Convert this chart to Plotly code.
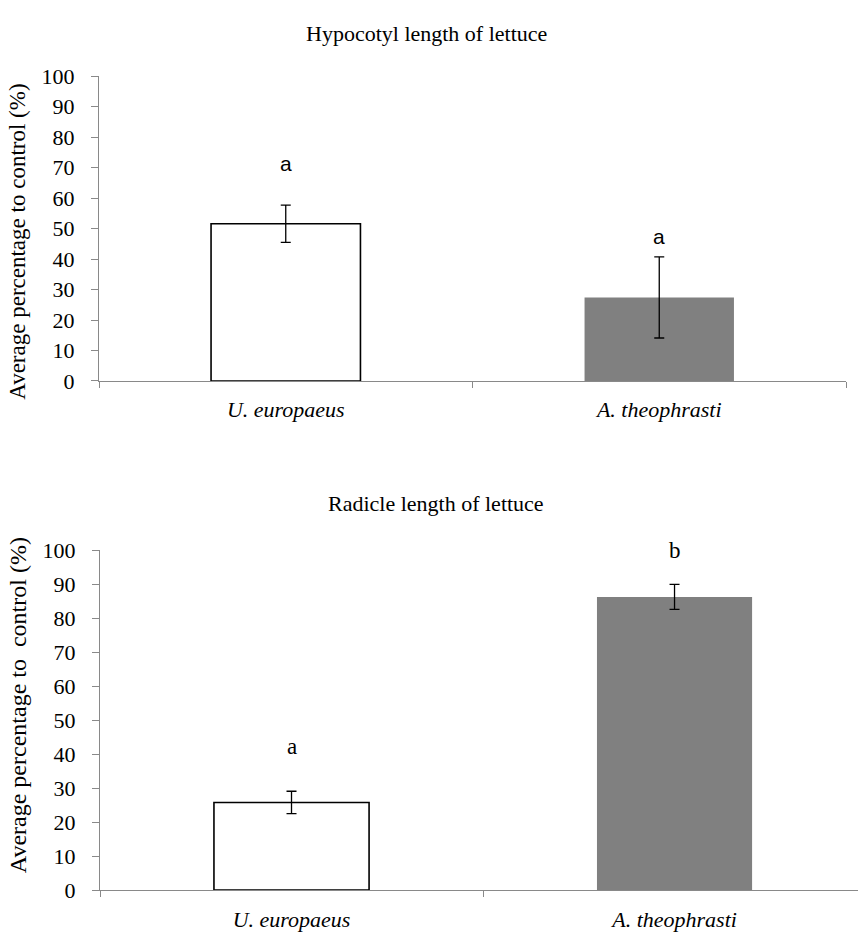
import plotly.graph_objects as go

categories = ["<i>U. europaeus</i>", "<i>A. theophrasti</i>"]
hypocotyl = [51.6, 27.4]
hypocotyl_err = [6.1, 13.3]
hypocotyl_letters = ["a", "a"]
hypocotyl_letter_y = [71.5, 47.5]

radicle = [25.8, 86.3]
radicle_err = [3.3, 3.7]
radicle_letters = ["a", "b"]
radicle_letter_y = [42.3, 100]

y_ticks = [0, 10, 20, 30, 40, 50, 60, 70, 80, 90, 100]

W, H = 858, 944
SERIF = "Times New Roman, Liberation Serif, Times, serif"
SANS = "Arial, Liberation Sans, sans-serif"
GREY_AX = "#898989"

fill_colors = ["white", "#808080"]
line_colors = ["black", "#808080"]
line_widths = [1.6, 0]

fig = go.Figure()

fig.add_trace(go.Bar(
    x=categories, y=hypocotyl, xaxis="x", yaxis="y", width=0.40,
    marker=dict(color=fill_colors, line=dict(color=line_colors, width=line_widths)),
    error_y=dict(type="data", array=hypocotyl_err, visible=True, color="black", thickness=1.3, width=5),
    showlegend=False, hoverinfo="skip",
))
fig.add_trace(go.Bar(
    x=categories, y=radicle, xaxis="x2", yaxis="y2", width=0.405,
    marker=dict(color=fill_colors, line=dict(color=line_colors, width=line_widths)),
    error_y=dict(type="data", array=radicle_err, visible=True, color="black", thickness=1.3, width=5),
    showlegend=False, hoverinfo="skip",
))

def px_x(p):
    return p / W

def px_y(p):
    return 1 - p / H

yaxis_common = dict(
    range=[0, 100], tickvals=y_ticks, ticks="outside", ticklen=7, tickcolor=GREY_AX,
    showline=True, linecolor=GREY_AX, linewidth=1, showgrid=False, zeroline=False,
    tickfont=dict(family=SERIF, size=22, color="black"), ticklabelstandoff=12,
    fixedrange=True,
)
xaxis_common = dict(
    type="category", ticks="outside", ticklen=6, tickcolor=GREY_AX, tickson="boundaries",
    showline=True, linecolor=GREY_AX, linewidth=1, showgrid=False, zeroline=False,
    tickfont=dict(family=SERIF, size=22, color="black"), ticklabelstandoff=9,
    fixedrange=True,
)

fig.update_layout(
    width=W, height=H,
    font=dict(family=SERIF, color="black"),
    margin=dict(l=0, r=0, t=0, b=0),
    paper_bgcolor="white", plot_bgcolor="white",
    xaxis=dict(domain=[px_x(99), px_x(846)], anchor="y", range=[-0.5, 1.5], **xaxis_common),
    yaxis=dict(domain=[px_y(379), px_y(66)], anchor="x", **yaxis_common),
    xaxis2=dict(domain=[px_x(100), 1.0], anchor="y2", range=[-0.5, 1.479], **xaxis_common),
    yaxis2=dict(domain=[px_y(902), px_y(553)], anchor="x2", **yaxis_common),
)

annotations = []
annotations.append(dict(text="Hypocotyl length of lettuce", x=px_x(426), y=px_y(22),
                        xref="paper", yref="paper", showarrow=False, xanchor="center", yanchor="middle",
                        font=dict(family=SERIF, size=22, color="black")))
annotations.append(dict(text="Radicle length of lettuce", x=px_x(436), y=px_y(505),
                        xref="paper", yref="paper", showarrow=False, xanchor="center", yanchor="middle",
                        font=dict(family=SERIF, size=22, color="black")))
annotations.append(dict(text="Average percentage to control (%)", x=px_x(18), y=px_y(236),
                        xref="paper", yref="paper", showarrow=False, textangle=-90,
                        xanchor="center", yanchor="middle",
                        font=dict(family=SERIF, size=23, color="black")))
annotations.append(dict(text="Average percentage to\u00a0 control (%)", x=px_x(18), y=px_y(712),
                        xref="paper", yref="paper", showarrow=False, textangle=-90,
                        xanchor="center", yanchor="middle",
                        font=dict(family=SERIF, size=24, color="black")))
for cat, lab, yv in zip(categories, hypocotyl_letters, hypocotyl_letter_y):
    annotations.append(dict(text=lab, x=cat, y=yv, xref="x", yref="y", showarrow=False,
                            xanchor="center", yanchor="middle",
                            font=dict(family=SANS, size=21, color="black")))
for cat, lab, yv in zip(categories, radicle_letters, radicle_letter_y):
    annotations.append(dict(text=lab, x=cat, y=yv, xref="x2", yref="y2", showarrow=False,
                            xanchor="center", yanchor="middle",
                            font=dict(family=SERIF, size=23, color="black")))

fig.update_layout(annotations=annotations)

fig.write_html("out.html")
